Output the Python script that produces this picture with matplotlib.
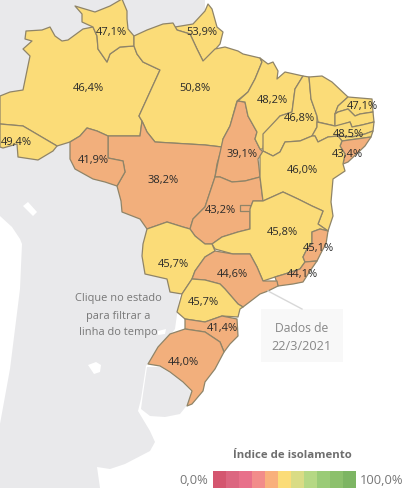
import matplotlib
matplotlib.use('Agg')
import matplotlib.pyplot as plt
from matplotlib.patches import Polygon, Rectangle

plt.rcParams['font.family'] = ['Open Sans', 'DejaVu Sans']

YELLOW = '#FBDC78'
ORANGE = '#F2AF7C'
EDGE = '#8F8468'
GRAY = '#E9E9EB'

# state outlines (x, y in image pixels)
states = {
    'AM': [(26,32),(42,31),(50,28),(55,37),(62,42),(68,41),(83,30),(93,28),(97,37),(98,50),(107,63),(110,55),(120,48),(134,47),(137,55),(143,63),(160,71),(139,117),(142,122),(140,137),(108,137),(97,132),(87,129),(80,137),(70,143),(57,147),(23,127),(0,125),(0,97),(10,93),(23,91),(30,57),(23,50),(32,42),(25,40)],
    'AC': [(0,125),(23,127),(57,147),(53,152),(38,161),(18,158),(17,145),(3,149),(0,148)],
    'RR': [(75,7),(95,13),(110,7),(122,0),(127,12),(127,20),(128,30),(134,37),(134,47),(120,48),(110,55),(107,63),(98,50),(97,37),(93,28),(82,23),(82,15)],
    'AP': [(175,28),(193,25),(205,12),(208,5),(212,10),(217,28),(223,33),(220,45),(213,53),(207,60),(203,62),(197,50),(190,35),(177,31)],
    'PA': [(134,37),(147,31),(163,25),(173,24),(177,31),(190,35),(197,50),(203,62),(205,60),(215,50),(225,48),(238,52),(243,55),(260,59),(262,63),(255,80),(248,93),(237,102),(230,127),(223,140),(222,148),(205,146),(155,143),(147,133),(142,122),(139,117),(160,71),(143,63),(137,55),(134,47)],
    'MT': [(142,122),(147,133),(155,143),(205,146),(222,148),(217,165),(215,178),(205,208),(193,220),(190,230),(183,228),(167,223),(147,230),(140,220),(122,213),(121,202),(117,187),(125,173),(123,162),(108,159),(108,137),(140,137)],
    'RO': [(70,143),(80,137),(87,129),(97,132),(108,137),(108,159),(123,162),(125,173),(117,187),(105,183),(93,180),(75,170),(70,160)],
    'TO': [(238,102),(245,103),(248,117),(257,133),(255,140),(260,150),(263,153),(258,160),(260,178),(245,182),(232,183),(220,178),(215,178),(218,163),(223,140),(230,127),(237,103)],
    'GO': [(215,178),(220,178),(232,183),(245,182),(260,178),(263,202),(253,202),(250,210),(250,230),(238,233),(222,238),(212,245),(205,245),(195,237),(190,230),(193,220),(205,208)],
    'DF': [(240,206),(250,206),(250,212),(240,212)],
    'MA': [(260,59),(268,65),(273,63),(278,72),(277,80),(285,73),(303,77),(295,90),(292,113),(280,117),(265,135),(263,150),(260,150),(255,140),(257,133),(248,117),(245,103),(238,102),(248,93),(255,80),(262,63)],
    'PI': [(303,77),(309,78),(311,100),(317,117),(317,128),(312,137),(300,142),(285,143),(280,153),(273,157),(263,152),(263,135),(280,117),(292,113),(295,90)],
    'CE': [(309,78),(322,77),(332,83),(348,98),(338,107),(335,115),(335,127),(318,123),(317,117),(311,100)],
    'RN': [(348,98),(372,100),(373,113),(360,115),(355,117),(348,110),(338,113),(335,115),(338,107)],
    'PB': [(335,115),(338,113),(348,110),(355,117),(360,115),(373,113),(374,123),(362,126),(352,128),(350,123),(338,127),(335,127)],
    'PE': [(317,123),(335,127),(350,123),(352,128),(362,126),(374,123),(373,132),(365,135),(352,138),(338,137),(328,138),(318,143),(315,137),(312,137),(317,128)],
    'AL': [(338,137),(352,138),(365,135),(373,132),(371,138),(342,142)],
    'SE': [(342,142),(371,138),(365,147),(348,163),(343,165),(345,155),(340,147)],
    'BA': [(260,157),(263,152),(273,157),(280,153),(285,143),(300,142),(312,137),(315,137),(318,143),(328,138),(338,137),(342,142),(340,147),(345,155),(343,165),(345,172),(333,180),(331,203),(333,217),(328,232),(318,225),(323,212),(312,207),(298,200),(283,193),(263,202),(260,178)],
    'MG': [(263,202),(283,193),(298,200),(312,207),(323,212),(318,225),(328,232),(320,230),(312,233),(312,245),(308,248),(303,258),(305,263),(300,270),(285,275),(275,278),(263,282),(257,268),(250,255),(233,255),(215,250),(212,245),(222,238),(238,233),(250,230),(250,210),(253,202)],
    'ES': [(312,233),(320,230),(328,232),(326,245),(322,252),(317,262),(305,263),(303,258),(308,248),(312,245)],
    'RJ': [(305,263),(317,262),(310,272),(303,283),(293,285),(278,287),(275,278),(285,275),(300,270)],
    'MS': [(147,230),(167,223),(183,228),(190,230),(195,237),(205,245),(212,245),(215,252),(205,258),(195,272),(192,280),(182,295),(170,293),(167,280),(145,275),(142,257),(143,245)],
    'SP': [(205,258),(215,252),(233,255),(250,255),(257,268),(263,282),(277,282),(278,287),(268,292),(260,295),(243,308),(238,305),(225,290),(220,285),(205,281),(192,280),(195,272)],
    'PR': [(192,280),(182,295),(177,313),(185,320),(205,323),(222,317),(238,318),(240,310),(243,308),(238,305),(225,290),(220,285),(205,281)],
    'SC': [(185,320),(185,330),(205,333),(220,343),(224,353),(230,345),(238,337),(237,320),(222,317),(205,323)],
    'RS': [(185,330),(170,335),(158,348),(148,365),(160,367),(170,373),(183,383),(192,392),(187,407),(192,405),(203,392),(205,383),(215,370),(224,353),(220,343),(205,333)],
}

orange_states = ['MT', 'RO', 'TO', 'GO', 'DF', 'SE', 'ES', 'RJ', 'SP', 'SC', 'RS']

# neighbouring countries in grey
land = [(0,0),(205,0),(205,60),(200,150),(175,330),(146,367),(141,400),(138,412),(150,432),(155,443),(150,452),(125,465),(110,470),(97,468),(100,489),(0,489),(0,425),(10,370),(20,290),(22,245),(20,240),(12,228),(0,217)]
uruguay = [(147,368),(160,368),(170,374),(183,384),(191,393),(188,405),(180,415),(165,418),(150,417),(141,410),(143,395)]
lakes = [[(23,207),(28,203),(37,213),(33,217)], [(88,366),(96,363),(101,366),(100,373),(94,375)], [(158,332),(166,330),(165,335),(158,336)]]

# value labels: text, x, y
labels = ['47,1%', '53,9%', '46,4%', '50,8%', '48,2%', '46,8%', '47,1%', '48,5%', '43,4%', '39,1%', '46,0%', '43,2%', '45,8%', '41,9%', '38,2%', '45,1%', '44,6%', '44,1%', '45,7%', '45,7%', '41,4%', '44,0%', '49,4%']
label_x = [111, 202, 88, 195, 272, 299, 362, 348, 347, 242, 302, 220, 282, 93, 163, 318, 232, 302, 173, 203, 222, 183, 16]
label_y = [32, 33, 89, 89, 100, 118, 107, 135, 155, 155, 170, 211, 232, 160, 180, 249, 274, 275, 264, 302, 329, 362, 142]

legend_colors = ['#D4566F', '#DC6680', '#E8708A', '#F28C8A', '#F9B07C', '#FBDC78', '#D9DC85', '#B5D884', '#9ACB77', '#8CC06C', '#7DB563']

fig = plt.figure(figsize=(4.10, 4.89), dpi=100)
ax = fig.add_axes([0, 0, 1, 1])
ax.set_xlim(0, 410)
ax.set_ylim(489, 0)
ax.axis('off')

ax.add_patch(Polygon(land, closed=True, fc=GRAY, ec='none'))
ax.add_patch(Polygon(uruguay, closed=True, fc=GRAY, ec='none'))
for lake in lakes:
    ax.add_patch(Polygon(lake, closed=True, fc='white', ec='none'))

for name, pts in states.items():
    color = ORANGE if name in orange_states else YELLOW
    ax.add_patch(Polygon(pts, closed=True, fc=color, ec=EDGE, lw=0.9, joinstyle='round'))

for txt, x, y in zip(labels, label_x, label_y):
    ax.text(x, y, txt, ha='center', va='center', fontsize=8, color='#2A2A2A')

# notes
for txt, y in zip(['Clique no estado', 'para filtrar a', 'linha do tempo'], [299, 316, 333]):
    ax.text(118, y, txt, ha='center', va='center', fontsize=7.9, color='#777777')

ax.plot([268, 302], [292, 310], color='#D8D8D8', lw=1)
ax.add_patch(Rectangle((261, 310), 82, 53, fc='#F8F8F8', ec='none'))
ax.text(302, 329, 'Dados de', ha='center', va='center', fontsize=8.7, color='#888888')
ax.text(302, 346, '22/3/2021', ha='center', va='center', fontsize=9.2, color='#888888')

# legend
ax.text(292, 455, 'Índice de isolamento', ha='center', va='center', fontsize=8.2, fontweight='bold', color='#6E6E6E')
ax.bar(range(213, 213 + 13 * len(legend_colors), 13), [17] * len(legend_colors), width=13, bottom=472, align='edge', color=legend_colors)
ax.text(208, 480, '0,0%', ha='right', va='center', fontsize=9.3, color='#777777')
ax.text(360, 480, '100,0%', ha='left', va='center', fontsize=9.3, color='#777777')

fig.savefig('out.png', dpi=100)
